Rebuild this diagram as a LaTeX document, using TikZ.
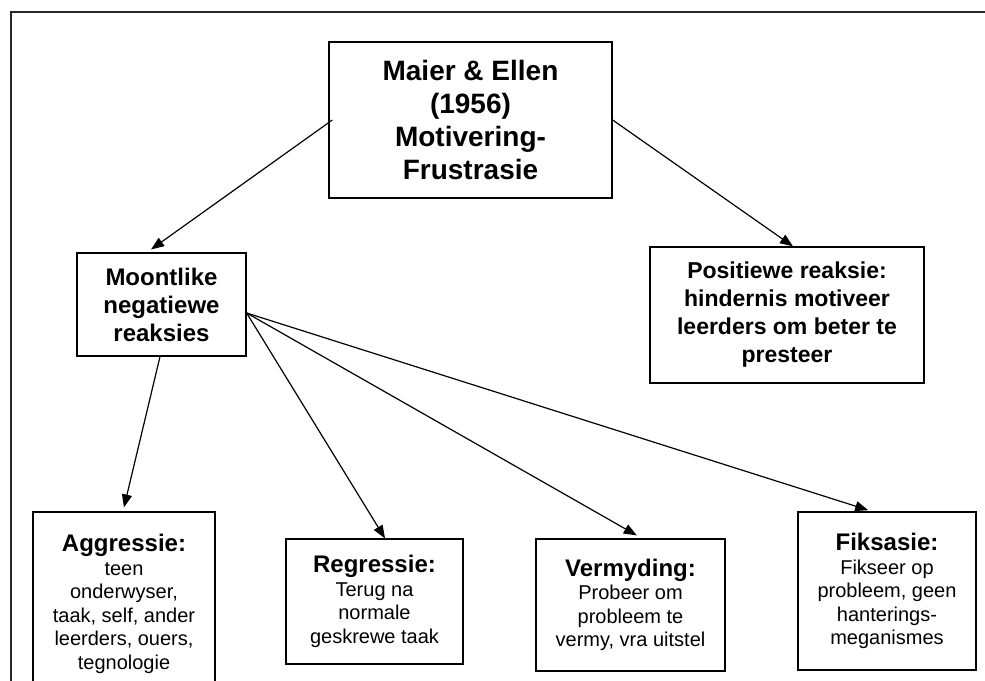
\documentclass[tikz,border=0pt]{standalone}
\usepackage{fontspec}
\setmainfont{Liberation Sans}
\usepackage{tikz}
\usetikzlibrary{arrows.meta}

\begin{document}
\begin{tikzpicture}[x=1pt, y=-1pt,
    box/.style={draw, line width=1.3pt, inner sep=2pt, align=center},
    headtext/.style={font=\fontsize{24}{28}\selectfont\bfseries},
    leaftext/.style={font=\fontsize{20}{23.5}\selectfont},
    link/.style={line width=1.2pt, -{Triangle[length=13pt,width=10pt]}},
    frame/.style={line width=2.4pt, draw=black!85}]

                \useasboundingbox (0,0) rectangle (985,680);
                \draw[frame] (11,700) -- (11,12) -- (1000,12);

                % Nodes
                \node at (470.5,120) (maier) [box, minimum width=283, minimum height=156,
                    font=\fontsize{28}{33}\selectfont\bfseries]
                    {Maier \& Ellen\\(1956)\\Motivering-\\Frustrasie};
                \node at (161.5,304.5) (neg) [box, headtext, minimum width=169, minimum height=103]
                    {Moontlike\\negatiewe\\reaksies};
                \node at (787,315) (pos) [box, minimum width=274, minimum height=136,
                    font=\fontsize{23}{28}\selectfont\bfseries]
                    {Positiewe reaksie:\\hindernis motiveer\\leerders om beter te\\presteer};
                \node at (124,604) (aggr) [box, leaftext, minimum width=182, minimum height=184]
                    {{\fontsize{24}{26}\selectfont\bfseries Aggressie:}\\teen\\onderwyser,\\taak, self, ander\\leerders, ouers,\\tegnologie};
                \node at (374.5,601.5) (regr) [box, leaftext, minimum width=177, minimum height=125]
                    {{\fontsize{24}{26}\selectfont\bfseries Regressie:}\\Terug na\\normale\\geskrewe taak};
                \node at (630.5,605) (verm) [box, leaftext, minimum width=189, minimum height=132]
                    {{\fontsize{24}{26}\selectfont\bfseries Vermyding:}\\Probeer om\\probleem te\\vermy, vra uitstel};
                \node at (887,591) (fiks) [box, leaftext, minimum width=178, minimum height=158]
                    {{\fontsize{24}{26}\selectfont\bfseries Fiksasie:}\\Fikseer op\\probleem, geen\\hanterings-\\meganismes};

                % Arrows
                \draw[link, shorten >=5pt] ([xshift=4]maier.west) -- ([xshift=-14.5]neg.north);
                \draw[link] (maier.east) -- ([xshift=6]pos.north);
                \draw[link, shorten >=4pt] ([xshift=-1.5]neg.south) -- ([xshift=-1]aggr.north);
                \draw[link] ([yshift=-8.5]neg.east) -- ([xshift=10.5]regr.north);
                \draw[link, shorten >=6pt] ([yshift=-8.5]neg.east) -- ([xshift=11.5]verm.north);
                \draw[link, shorten >=4pt] ([yshift=-8.5]neg.east) -- ([xshift=-15]fiks.north);

\end{tikzpicture}
\end{document}
